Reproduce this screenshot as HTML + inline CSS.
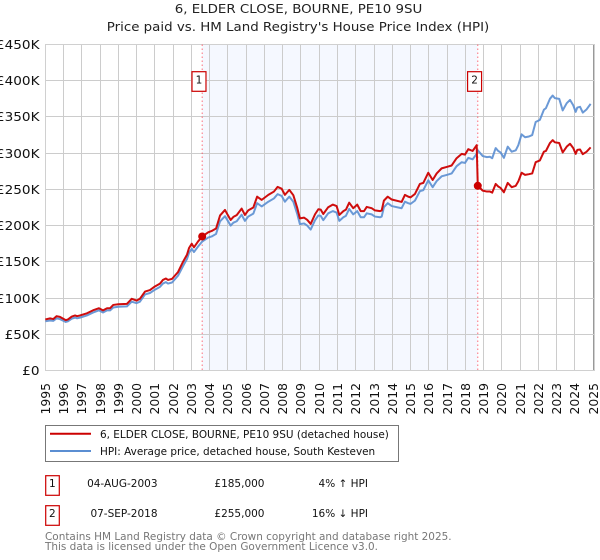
<!DOCTYPE html>
<html>
<head>
<meta charset="utf-8">
<title>6, ELDER CLOSE, BOURNE, PE10 9SU</title>
<style>
html,body{margin:0;padding:0;background:#fff;}
body{width:600px;height:560px;overflow:hidden;}
svg{display:block;font-family:"DejaVu Sans","Liberation Sans",sans-serif;}
</style>
</head>
<body>
<svg id="chart" width="600" height="560" viewBox="0 0 600 560" xmlns="http://www.w3.org/2000/svg">
  <rect x="0" y="0" width="600" height="560" fill="#ffffff"/>
  <text transform="translate(298.5,12.8) scale(1.08,1)" font-size="12.4" text-anchor="middle" fill="#222">6, ELDER CLOSE, BOURNE, PE10 9SU</text>
  <text transform="translate(298,30.8) scale(1.08,1)" font-size="12.4" text-anchor="middle" fill="#222">Price paid vs. HM Land Registry's House Price Index (HPI)</text>
  <g id="plot"></g>

  <g>
    <rect x="45.5" y="425.5" width="353" height="36" fill="#fff" stroke="#777" stroke-width="1"/>
    <line x1="50" y1="433.7" x2="91" y2="433.7" stroke="#cc0000" stroke-width="2"/>
    <text x="100" y="438" font-size="10.46" fill="#111">6, ELDER CLOSE, BOURNE, PE10 9SU (detached house)</text>
    <line x1="50" y1="451" x2="91" y2="451" stroke="#5b8ed2" stroke-width="2"/>
    <text x="100" y="455" font-size="10.46" fill="#111">HPI: Average price, detached house, South Kesteven</text>
  </g>

  <g font-size="10.5" fill="#111">
    <rect x="45.7" y="475.7" width="13.6" height="19.6" fill="#fff" stroke="#cc0000" stroke-width="1.2"/>
    <text x="52.3" y="487.2" text-anchor="middle">1</text>
    <text x="157.5" y="487.2" text-anchor="end">04-AUG-2003</text>
    <text x="264.5" y="487.2" text-anchor="end">£185,000</text>
    <text x="368" y="487.2" text-anchor="end">4% ↑ HPI</text>
  </g>
  <g font-size="10.5" fill="#111">
    <rect x="45.7" y="505.7" width="13.6" height="19.6" fill="#fff" stroke="#cc0000" stroke-width="1.2"/>
    <text x="52.3" y="517.2" text-anchor="middle">2</text>
    <text x="157.5" y="517.2" text-anchor="end">07-SEP-2018</text>
    <text x="264.5" y="517.2" text-anchor="end">£255,000</text>
    <text x="368" y="517.2" text-anchor="end">16% ↓ HPI</text>
  </g>
  <text x="45" y="540" font-size="10.46" fill="#777">Contains HM Land Registry data © Crown copyright and database right 2025.</text>
  <text x="45" y="550" font-size="10.46" fill="#777">This data is licensed under the Open Government Licence v3.0.</text>
</svg>
<script>
const yearTicks = [1995,1996,1997,1998,1999,2000,2001,2002,2003,2004,2005,2006,2007,2008,2009,2010,2011,2012,2013,2014,2015,2016,2017,2018,2019,2020,2021,2022,2023,2024,2025];
const valueTicks = [0,50,100,150,200,250,300,350,400,450];
const valueTickLabels = ['£0','£50K','£100K','£150K','£200K','£250K','£300K','£350K','£400K','£450K'];
const saleDates = [2003.59,2018.68];
const salePrices = [185,255];
const saleLabels = ['1','2'];
const shadedRange = [2003.59,2018.68];
const dates = [1995,1995.26,1995.44,1995.62,1995.8,1996.12,1996.24,1996.45,1996.63,1996.74,1996.9,1997.28,1997.61,1997.94,1998.16,1998.38,1998.55,1998.72,1999,1999.47,1999.73,2000,2000.18,2000.46,2000.73,2001,2001.28,2001.44,2001.6,2001.72,2001.94,2002.27,2002.54,2002.76,2002.87,2003.02,2003.14,2003.36,2003.59,2003.92,2004.11,2004.35,2004.57,2004.84,2004.96,2005.15,2005.3,2005.48,2005.75,2005.93,2006.11,2006.39,2006.6,2006.85,2007.21,2007.52,2007.72,2007.94,2008.12,2008.36,2008.58,2008.8,2008.94,2009.17,2009.34,2009.53,2009.77,2009.95,2010.08,2010.22,2010.49,2010.74,2010.95,2011.1,2011.32,2011.46,2011.64,2011.86,2012.08,2012.27,2012.45,2012.6,2012.87,2013.05,2013.33,2013.42,2013.54,2013.75,2013.97,2014.51,2014.69,2014.87,2015,2015.24,2015.51,2015.7,2015.97,2016.21,2016.43,2016.7,2016.98,2017.25,2017.52,2017.8,2017.98,2018.16,2018.4,2018.62,2018.68,2018.95,2019.18,2019.35,2019.47,2019.66,2019.8,2019.93,2020.11,2020.32,2020.54,2020.76,2020.9,2021.08,2021.27,2021.48,2021.66,2021.85,2022.08,2022.3,2022.41,2022.63,2022.78,2022.9,2023.14,2023.33,2023.55,2023.73,2023.91,2024.04,2024.13,2024.28,2024.43,2024.64,2024.86];
const pricePaid = [70.5,72,71,75,74,69.5,70.5,74.5,76,75,76,79,83,86,83,86,86,90.5,91.5,92,99,96.5,99,109,111,116,120,125,127,125,126.5,136,150,160,169,175,170,178,185,190.8,192.6,196,214,221.6,216,207.8,212,214.5,223.5,214.7,221,225,240,235.5,242.4,247,253.4,251,242.4,249.3,242,224,210,211,208,202.3,215.7,222.6,222,216,225.4,229,227,214.7,220,222,231.7,224,229,220,220,225.8,224,221,220,221,234.5,240,236,232.7,242.4,240,239,243.7,257.5,259,273,263,272,279,281,283,293,299,298,305.5,303,311,255,248.3,247,247,245.5,257.5,254,252,246,259,253,255,261,273,270,271,272,287.5,290,302,303,314,318,315,314,301,309,313,307,299,304.5,305,298.6,302,308];
const hpiIndex = [68,69,68.5,72,71,67,68,71.5,73,72,73,76,80,83,80,83,83,87,88,88.5,95,93,95,105,107,111.5,115.5,120,122,120,121.5,131,144,154,162.5,168,163.5,171,178,183.5,185,188.5,206,213,208,200,204,206,215,206.5,212.5,216.5,231,226.5,233,237.5,243.5,241,233,240,233,215.5,202,203,200,194.5,207.5,214,213.5,207.5,217,220,218,206.5,211.5,213.5,223,215.5,220,211.5,211.5,217,215.5,212.5,211.5,212.5,225.5,231,227,224,233,231,230,234.5,247.5,249,262.5,253,261.5,268,270,272,282,287.5,286.5,293.5,291.5,299,304,296,294.5,295,293,307,303,301,293.5,309,302,304,311,326,322,323,325,343,346,360,362,375,379.5,376,375,359,369,373.5,366,357,363,364,356,360.5,368];

const NS = 'http://www.w3.org/2000/svg';
const plot = document.getElementById('plot');
const xLeft = 45.3, xRight = 593.2, yBottom = 370.5, yTop = 44.5;
function xScale(year){ return xLeft + (year - 1995) * (xRight - xLeft) / 30; }
function yScale(value){ return yBottom - value * (yBottom - yTop) / 450; }
function snap(p){ return Math.round(p - 0.5) + 0.5; }
function add(tag, attrs){
  const el = document.createElementNS(NS, tag);
  for (const k in attrs) el.setAttribute(k, attrs[k]);
  plot.appendChild(el);
  return el;
}
let el;

el = add('rect', {x:xScale(shadedRange[0]), y:yTop, width:xScale(shadedRange[1])-xScale(shadedRange[0]), height:yBottom-yTop, fill:'#f5f8ff'});



yearTicks.forEach(function(yr){
  const x = snap(xScale(yr));
  const g = add('line', {x1:x, y1:yTop, x2:x, y2:yBottom, stroke: yr === 2025 ? '#999999' : '#cccccc', 'stroke-width':1});
  
  
  const t = add('text', {x:0, y:0, transform:'translate(' + (x + 4.6) + ',414.5) rotate(-90)', 'font-size':12.4, fill:'#111'});
  t.textContent = yr;
  
  
});

valueTicks.forEach(function(v, i){
  const y = snap(yScale(v));
  const g = add('line', {x1:xLeft, y1:y, x2:594.5, y2:y, stroke:'#cccccc', 'stroke-width':1});
  
  
  const t = add('text', {x:0, y:0, transform:'translate(39.5,' + (y + 4.5) + ') scale(1.135,1)', 'text-anchor':'end', 'font-size':12, fill:'#111'});
  t.textContent = valueTickLabels[i];
  
  
});

el = add('rect', {x:45.5, y:44.5, width:549, height:326, fill:'none', stroke:'#d0d0d0', 'stroke-width':1});



saleDates.forEach(function(d){
  const x = xScale(d);
  const l = add('line', {x1:x, y1:yTop, x2:x, y2:yBottom, stroke:'#ff3344', 'stroke-opacity':0.7, 'stroke-width':1, 'stroke-dasharray':'1.5 2.5'});
  
  
});

function pathFrom(values){
  return values.map(function(v, i){ return (i ? 'L' : 'M') + xScale(dates[i]).toFixed(2) + ' ' + yScale(v).toFixed(2); }).join(' ');
}
el = add('path', {d:pathFrom(hpiIndex), fill:'none', stroke:'#5b8ed2', 'stroke-width':2, 'stroke-opacity':0.9, 'stroke-linejoin':'round'});


el = add('path', {d:pathFrom(pricePaid), fill:'none', stroke:'#cc0000', 'stroke-width':2, 'stroke-opacity':0.95, 'stroke-linejoin':'round'});



saleDates.forEach(function(d, i){
  const x = xScale(d), y = yScale(salePrices[i]);
  const c = add('circle', {cx:x, cy:y, r:4, fill:'#cc0000'});
  
  
  const b = add('rect', {x:x - 10.2, y:71.7, width:14, height:19.6, fill:'#ffffff', stroke:'#cc0000', 'stroke-width':1.2});
  
  
  const t = add('text', {x:x - 3.2, y:83.6, 'text-anchor':'middle', 'font-size':10.5, fill:'#111'});
  t.textContent = saleLabels[i];
  
  
});
</script>
</body>
</html>
